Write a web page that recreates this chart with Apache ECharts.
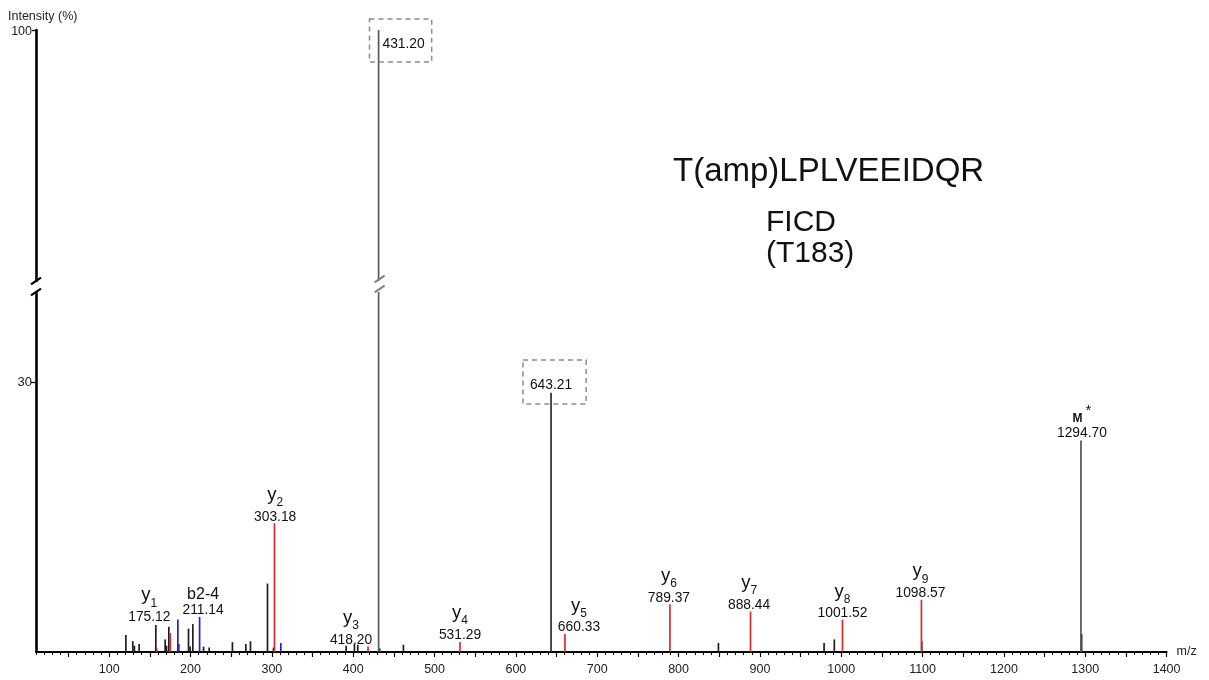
<!DOCTYPE html>
<html><head><meta charset="utf-8">
<script src="https://cdn.jsdelivr.net/npm/echarts@6/dist/echarts.min.js"></script>
<style>html,body{margin:0;padding:0;background:#fff}#c{width:1209px;height:680px}</style>
</head><body><div id="c"></div>
<script>
// ---------- data ----------
const xTickMajor = [50,100,150,200,250,300,350,400,450,500,550,600,650,700,750,800,850,900,950,1000,1050,1100,1150,1200,1250,1300,1350,1400];
const xTickLabels = [100,200,300,400,500,600,700,800,900,1000,1100,1200,1300,1400];
const yTickLower = [30];
const yTickUpper = [100];
// black (unassigned) peaks [m/z, intensity %]
const blackPeaks = [[120.5,1.9],[129,1.2],[131,0.7],[136.8,0.9],[157.3,3.0],[168.8,1.4],[170.5,0.7],[173.3,2.8],[197.5,2.6],[199.5,0.6],[202.8,3.1],[216,0.6],[222.9,0.5],[251.5,1.1],[268,0.9],[273.7,1.2],[294.6,7.6],[302,0.5],[391.3,0.7],[401.5,0.9],[405.6,0.8],[432.5,0.4],[461.7,0.8],[849,1.0],[978.9,1.0],[991.5,1.4],[1099,1.2],[1295.5,2.0]];
// main unassigned peaks
const majorPeaks = [[431.20,100],[643.21,28.8],[1294.70,23.5]];
// y-ion peaks (red)
const redPeaks = [[158.5,0.4],[175.12,2.1],[303.18,14.3],[418.20,0.6],[531.29,1.1],[660.33,2.0],[789.37,5.3],[888.44,4.5],[1001.52,3.6],[1098.57,5.8]];
// b-ion peaks (blue)
const bluePeaks = [[184.4,3.6],[185.6,0.9],[211.14,3.9],[311,1.0]];
// annotations
const labelMz  = [175.12, 211.14, 303.18, 418.20, 531.29, 660.33, 789.37, 888.44, 1001.52, 1098.57, 1294.70];
const labelIon = ['y','b2-4','y','y','y','y','y','y','y','y','M'];
const labelSub = ['1','','2','3','4','5','6','7','8','9','*'];
const boxedMz = [431.20, 643.21];

// ---------- styles ----------
const FONT = '"Liberation Sans", Arial, Helvetica, sans-serif';
const labelShift = {
  '175.12':[-21,-7.8], '211.14':[3.5,1.5], '303.18':[0.7,1.5], '418.20':[-17,1.5],
  '531.29':[0,1], '660.33':[14,1.5], '789.37':[-1,1.5], '888.44':[-1.4,1.5],
  '1001.52':[0,2], '1098.57':[-1,1.5], '1294.70':[1,0.5]
};
const rich = {
  y:{fontSize:18.5, lineHeight:28, verticalAlign:'middle', color:'#111', fontFamily:FONT},
  s:{fontSize:12, lineHeight:18, verticalAlign:'bottom', color:'#111', fontFamily:FONT},
  b:{fontSize:16, lineHeight:18, verticalAlign:'bottom', color:'#111', fontFamily:FONT},
  m:{fontSize:12, lineHeight:18, verticalAlign:'bottom', fontWeight:'bold', color:'#111', fontFamily:FONT},
  st:{fontSize:15, lineHeight:28, verticalAlign:'middle', color:'#111', padding:[0,0,0,3], fontFamily:FONT},
  n:{fontSize:13.8, lineHeight:16, color:'#111', fontFamily:FONT}
};
function labelFor(mz){
  const i = labelMz.indexOf(mz);
  if (i < 0) return null;
  const ion = labelIon[i], sub = labelSub[i], num = mz.toFixed(2);
  let f;
  if (ion === 'y') f = '{y|y}{s|' + sub + '}\n{n|' + num + '}';
  else if (ion === 'M') f = '{m|M}{st|' + sub + '}\n{n|' + num + '}';
  else f = '{b|' + ion + '}\n{n|' + num + '}';
  return {show:true, position:'top', distance:0, offset:labelShift[num], formatter:f, rich:rich};
}
const boxStyle = {
  '431.20':{offset:[22,32], padding:[18,7,11,13]},
  '643.21':{offset:[3.5,11.3], padding:[18,14,12,7]}
};
function boxedLabel(mz){
  const k = mz.toFixed(2);
  return {show:true, position:'top', distance:0, offset:boxStyle[k].offset, padding:boxStyle[k].padding,
    formatter:k, fontSize:13.8, lineHeight:14, color:'#111', fontFamily:FONT,
    borderColor:'#8c8c8c', borderWidth:1.5, borderType:[5,4]};
}
function items(arr, color){
  return arr.map(p => {
    const it = {value:[p[0],p[1]]};
    const l = labelFor(p[0]);
    if (l) it.label = l;
    if (color) it.itemStyle = {color:color};
    return it;
  });
}
const majorColors = {'431.20':'#5a5a5a','643.21':'#2e2e2e','1294.70':'#555555'};
const majorItems = majorPeaks.map(p => {
  const k = p[0].toFixed(2);
  const it = {value:[p[0],p[1]], itemStyle:{color:majorColors[k]}};
  if (k === '643.21') it.label = boxedLabel(p[0]);
  const l = labelFor(p[0]); if (l) it.label = l;
  return it;
});
const upperItems = majorPeaks.filter(p => p[1] > 40).map(p => ({
  value:[p[0],p[1]], itemStyle:{color:majorColors[p[0].toFixed(2)]},
  label: boxedMz.indexOf(p[0]) >= 0 ? boxedLabel(p[0]) : undefined
}));
const xTickMinor = [];
for (let v = 10; v <= 1400; v += 10) xTickMinor.push(v);

const XMIN = 10, XMAX = 1400;
const barBase = {type:'bar', barWidth:1.7, barGap:'-100%', clip:true, silent:true};

const chart = echarts.init(document.getElementById('c'), null, {renderer:'canvas'});
chart.setOption({
  animation:false,
  backgroundColor:'#fff',
  textStyle:{fontFamily:FONT},
  title:[
    {text:'Intensity (%)', left:8, top:10, padding:0, textStyle:{fontSize:12.5, fontWeight:'normal', color:'#222', fontFamily:FONT}},
    {text:'T(amp)LPLVEEIDQR', left:673, top:155, padding:0, textStyle:{fontSize:33, fontWeight:'normal', color:'#111', fontFamily:FONT}},
    {text:'FICD\n(T183)', left:766, top:207, padding:0, textStyle:{fontSize:30, lineHeight:31, fontWeight:'normal', color:'#111', fontFamily:FONT}}
  ],
  grid:[
    {left:36, right:42.4, top:292, bottom:28, containLabel:false},
    {left:36, right:42.4, top:30, height:251, containLabel:false}
  ],
  xAxis:[
    {gridIndex:0, type:'value', position:'bottom', min:XMIN, max:XMAX,
     name:'m/z', nameLocation:'end', nameGap:10,
     nameTextStyle:{fontSize:12.5, color:'#222', fontFamily:FONT, padding:[0,0,2,0]},
     axisLine:{show:true, onZero:false, lineStyle:{color:'#000', width:2}},
     axisTick:{show:true, customValues:xTickMajor, length:5, lineStyle:{color:'#000', width:1.2}},
     axisLabel:{show:true, customValues:xTickLabels, formatter:v => String(v), fontSize:12.5, color:'#222', margin:11, fontFamily:FONT},
     splitLine:{show:false}},
    {gridIndex:0, type:'value', position:'bottom', min:XMIN, max:XMAX,
     axisLine:{show:false, onZero:false},
     axisTick:{show:true, customValues:xTickMinor, length:3, lineStyle:{color:'#000', width:1}},
     axisLabel:{show:false}, splitLine:{show:false}},
    {gridIndex:1, type:'value', min:XMIN, max:XMAX, show:false}
  ],
  yAxis:[
    {gridIndex:0, type:'value', min:0, max:40,
     axisLine:{show:true, onZero:false, lineStyle:{color:'#000', width:2.6}},
     axisTick:{show:true, customValues:yTickLower, length:5, lineStyle:{color:'#000', width:1.3}},
     axisLabel:{show:true, customValues:yTickLower, fontSize:13, color:'#222', margin:4, fontFamily:FONT},
     splitLine:{show:false}},
    {gridIndex:1, type:'value', min:40, max:100,
     axisLine:{show:true, onZero:false, lineStyle:{color:'#000', width:2.6}},
     axisTick:{show:true, customValues:yTickUpper, length:4, lineStyle:{color:'#000', width:1.3}},
     axisLabel:{show:true, customValues:yTickUpper, fontSize:12.5, color:'#222', margin:4, fontFamily:FONT, verticalAlign:'top', padding:[-5,0,0,0]},
     splitLine:{show:false}}
  ],
  series:[
    Object.assign({}, barBase, {name:'other', xAxisIndex:0, yAxisIndex:0, itemStyle:{color:'#1e1e1e'}, data:items(blackPeaks)}),
    Object.assign({}, barBase, {name:'major', xAxisIndex:0, yAxisIndex:0, data:majorItems}),
    Object.assign({}, barBase, {name:'y ions', xAxisIndex:0, yAxisIndex:0, itemStyle:{color:'#d92b2b'}, data:items(redPeaks)}),
    Object.assign({}, barBase, {name:'b ions', xAxisIndex:0, yAxisIndex:0, itemStyle:{color:'#2323c8'}, data:items(bluePeaks)}),
    Object.assign({}, barBase, {name:'major upper', xAxisIndex:2, yAxisIndex:1, data:upperItems})
  ]
});

// axis-break marks, positioned through the chart's own scales
const yUpBottom = chart.convertToPixel({gridIndex:1}, [XMIN, 40])[1];
const yLowTop = chart.convertToPixel({gridIndex:0}, [XMIN, 40])[1];
const xAx = chart.convertToPixel({gridIndex:0}, [XMIN, 0])[0];
const xPk = chart.convertToPixel({gridIndex:0}, [majorPeaks[0][0], 0])[0];
function slash(x, y, color, w){
  return {type:'line', shape:{x1:x-5, y1:y+3.4, x2:x+5, y2:y-3.4}, style:{stroke:color, lineWidth:w}, silent:true, z:100};
}
chart.setOption({graphic:[
  slash(xAx, yUpBottom, '#000', 2.2), slash(xAx, yLowTop, '#000', 2.2),
  slash(xPk+1, yUpBottom-2, '#808080', 2), slash(xPk+1, yLowTop-3, '#808080', 2)
]});
</script></body></html>
